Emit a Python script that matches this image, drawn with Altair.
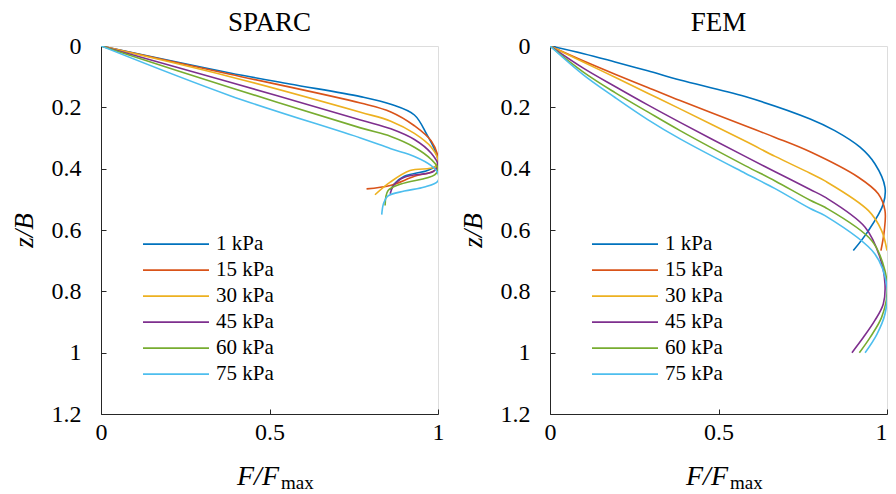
import altair as alt
import pandas as pd

labels = ["1 kPa", "15 kPa", "30 kPa", "45 kPa", "60 kPa", "75 kPa"]
colors = ["#0072BD", "#D95319", "#EDB120", "#7E2F8E", "#77AC30", "#4DBEEE"]

# SPARC panel: F/Fmax and z/B along each curve
sparc_F = [
    [0, 0.383, 0.56, 0.77, 0.86, 0.93, 0.966, 0.991, 1.0, 0.97, 0.90, 0.87, 0.86],
    [0, 0.383, 0.77, 0.86, 0.93, 0.98, 1.0, 0.99, 0.93, 0.858, 0.788],
    [0, 0.383, 0.77, 0.86, 0.93, 0.98, 1.0, 0.99, 0.917, 0.858, 0.813],
    [0, 0.383, 0.77, 0.86, 0.93, 0.98, 1.0, 0.985, 0.90, 0.868, 0.858],
    [0, 0.383, 0.77, 0.86, 0.93, 0.98, 1.0, 0.99, 0.89, 0.852, 0.843],
    [0, 0.383, 0.77, 0.86, 0.93, 0.98, 1.0, 1.0, 0.96, 0.90, 0.85, 0.838, 0.833],
]
sparc_z = [
    [0, 0.088, 0.124, 0.165, 0.19, 0.225, 0.287, 0.341, 0.384, 0.405, 0.425, 0.45, 0.47],
    [0, 0.092, 0.186, 0.215, 0.26, 0.31, 0.37, 0.405, 0.425, 0.455, 0.466],
    [0, 0.10, 0.216, 0.245, 0.285, 0.33, 0.375, 0.395, 0.406, 0.444, 0.485],
    [0, 0.118, 0.241, 0.27, 0.305, 0.35, 0.39, 0.41, 0.428, 0.455, 0.482],
    [0, 0.135, 0.267, 0.295, 0.33, 0.37, 0.40, 0.42, 0.45, 0.471, 0.52],
    [0, 0.162, 0.30, 0.335, 0.36, 0.39, 0.415, 0.44, 0.46, 0.473, 0.49, 0.515, 0.55],
]

# FEM panel
fem_F = [
    [0, 0.1, 0.193, 0.29, 0.386, 0.579, 0.772, 0.845, 0.92, 0.964, 0.994, 0.989, 0.945, 0.90],
    [0, 0.1, 0.193, 0.29, 0.386, 0.579, 0.668, 0.772, 0.915, 0.974, 0.994, 0.992, 0.982],
    [0, 0.1, 0.193, 0.29, 0.386, 0.579, 0.668, 0.772, 0.816, 0.945, 0.984, 1.0],
    [0, 0.1, 0.193, 0.29, 0.386, 0.579, 0.668, 0.772, 0.816, 0.935, 0.979, 0.994, 0.989, 0.964, 0.93, 0.896],
    [0, 0.1, 0.193, 0.29, 0.386, 0.579, 0.668, 0.772, 0.816, 0.955, 0.994, 1.0, 0.984, 0.95, 0.918],
    [0, 0.1, 0.193, 0.29, 0.386, 0.579, 0.668, 0.772, 0.816, 0.964, 1.0, 0.994, 0.97, 0.935],
]
fem_z = [
    [0, 0.025, 0.052, 0.081, 0.111, 0.165, 0.238, 0.276, 0.33, 0.384, 0.461, 0.515, 0.602, 0.667],
    [0, 0.049, 0.092, 0.135, 0.178, 0.26, 0.298, 0.345, 0.428, 0.482, 0.537, 0.602, 0.667],
    [0, 0.053, 0.102, 0.154, 0.205, 0.31, 0.36, 0.415, 0.44, 0.537, 0.602, 0.667],
    [0, 0.073, 0.132, 0.192, 0.249, 0.36, 0.41, 0.468, 0.493, 0.591, 0.689, 0.776, 0.841, 0.895, 0.95, 1.0],
    [0, 0.086, 0.152, 0.215, 0.276, 0.39, 0.44, 0.503, 0.526, 0.635, 0.733, 0.808, 0.885, 0.95, 1.0],
    [0, 0.095, 0.168, 0.24, 0.303, 0.415, 0.465, 0.53, 0.553, 0.678, 0.786, 0.874, 0.94, 1.0],
]

x_ticks = [0, 0.5, 1]
y_ticks = [0, 0.2, 0.4, 0.6, 0.8, 1, 1.2]

W, H = 337, 368
FONT = "Liberation Serif"
AX = "#262626"


def make_df(Fs, zs):
    rows = []
    for lab, F, z in zip(labels, Fs, zs):
        for i, (f, zz) in enumerate(zip(F, z)):
            rows.append({"series": lab, "idx": i, "F": f, "z": zz})
    return pd.DataFrame(rows)


def panel(title, df, lx, flush_last):
    xs = alt.Scale(domain=[0, 1], nice=False, zero=False)
    ys = alt.Scale(domain=[0, 1.2], nice=False, reverse=True)
    x_align = ({"condition": {"test": "datum.value === 1", "value": "right"},
                "value": "center"} if flush_last else "center")
    base = alt.Chart(df)
    lines = base.mark_line(strokeWidth=1.6, interpolate="catmull-rom",
                           clip=True).encode(
        x=alt.X("F:Q", scale=xs, axis=alt.Axis(
            values=x_ticks, format="~g", title=None, ticks=False, grid=False,
            labelPadding=6, domainColor=AX, labelColor="#000", labelFont=FONT,
            labelFontSize=24, labelAlign=x_align)),
        y=alt.Y("z:Q", scale=ys, axis=alt.Axis(
            values=y_ticks, format="~g", title="z/B", titleFont=FONT,
            titleFontStyle="italic", titleFontSize=27, titleFontWeight="normal",
            titleColor="#000", titlePadding=13, ticks=False, grid=False,
            labelPadding=20, domainColor=AX, labelColor="#000", labelFont=FONT,
            labelFontSize=24)),
        color=alt.Color("series:N", sort=labels,
                        scale=alt.Scale(domain=labels, range=colors),
                        legend=alt.Legend(
                            title=None, orient="none", legendX=lx, legendY=186.5,
                            symbolType="stroke", symbolSize=4356,
                            symbolStrokeWidth=1.6, clipHeight=23.3, rowPadding=2,
                            labelFont=FONT, labelFontSize=21,
                            labelColor="#000", labelOffset=6, padding=0)),
        order="idx:Q",
    )
    ticks = base.mark_line(opacity=0, clip=True).encode(
        x=alt.X("F:Q", scale=xs, axis=alt.Axis(
            orient="top", offset=-H, values=x_ticks, labels=False, domain=False,
            ticks=True, tickSize=5, tickColor=AX, title=None, grid=False)),
        y=alt.Y("z:Q", scale=ys, axis=alt.Axis(
            orient="right", offset=-W, values=y_ticks, labels=False, domain=False,
            ticks=True, tickSize=5, tickColor=AX, title=None, grid=False)),
        detail="series:N",
        order="idx:Q",
    )
    t1 = alt.Chart(pd.DataFrame({"t": ["F/F"]})).mark_text(
        font=FONT, fontSize=28, fontStyle="italic", align="right",
        baseline="alphabetic", color="#000").encode(
        text="t:N", x=alt.value(178), y=alt.value(439))
    t2 = alt.Chart(pd.DataFrame({"t": ["max"]})).mark_text(
        font=FONT, fontSize=19, align="left", baseline="alphabetic",
        color="#000").encode(text="t:N", x=alt.value(180), y=alt.value(443))
    return alt.layer(lines, ticks, t1, t2).resolve_scale(
        x="independent", y="independent").properties(
        width=W, height=H,
        title=alt.Title(title, font=FONT, fontSize=27, fontWeight="normal",
                        offset=-3, color="#000"))


left = panel("SPARC", make_df(sparc_F, sparc_z), 41, False)
right = panel("FEM", make_df(fem_F, fem_z), 41, True)

chart = alt.hconcat(left, right, spacing=112, bounds="flush").resolve_scale(
    color="independent").properties(
    padding={"left": 1, "top": 0, "right": 0, "bottom": 0}
).configure_view(stroke=None).configure(
    background="white", font=FONT
).configure_axis(labelFont=FONT, titleFont=FONT).configure_title(font=FONT)

chart.save("out.html", embed_options={"renderer": "svg", "actions": False})
